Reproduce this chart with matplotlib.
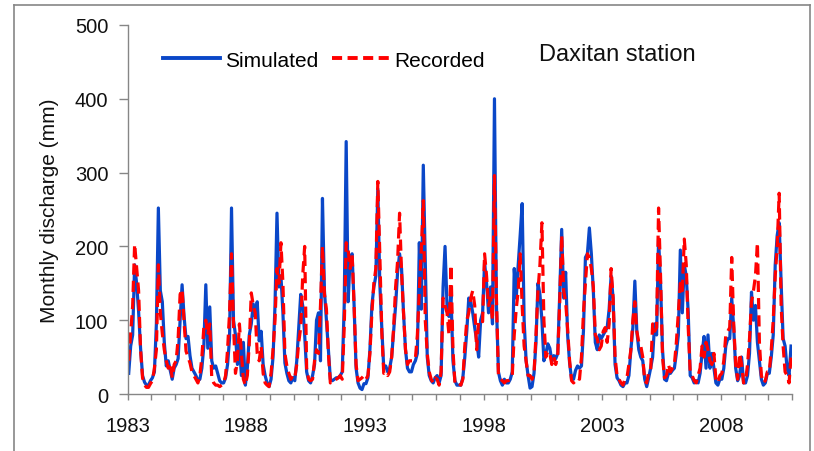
"""Monthly discharge at Daxitan station: simulated vs recorded, 1983-2010."""

import matplotlib.pyplot as plt
import numpy as np
from matplotlib.lines import Line2D

plt.rcParams["font.family"] = ["Liberation Sans", "DejaVu Sans"]

START_YEAR = 1983
N_YEARS = 28

# monthly discharge (mm), one row per year, Jan..Dec
simulated = [
    28, 65, 80, 175, 150, 112, 62, 25, 16, 12, 12, 18,      # 1983
    22, 30, 95, 252, 140, 125, 70, 38, 45, 32, 20, 35,      # 1984
    40, 48, 100, 148, 105, 75, 78, 52, 35, 30, 25, 18,      # 1985
    20, 35, 65, 148, 62, 118, 45, 35, 38, 28, 18, 15,       # 1986
    15, 22, 40, 75, 252, 100, 80, 40, 68, 25, 70, 12,       # 1987
    35, 80, 95, 122, 105, 125, 72, 85, 40, 25, 15, 10,      # 1988
    20, 50, 120, 245, 145, 160, 110, 42, 28, 18, 15, 22,    # 1989
    18, 45, 90, 135, 120, 80, 30, 18, 15, 25, 40, 100,      # 1990
    110, 45, 265, 140, 100, 60, 20, 18, 20, 22, 22, 25,     # 1991
    30, 120, 342, 125, 185, 190, 120, 35, 15, 8, 6, 14,     # 1992
    14, 22, 60, 120, 145, 160, 278, 150, 90, 35, 38, 30,    # 1993
    35, 50, 85, 120, 165, 190, 170, 110, 60, 35, 30, 30,    # 1994
    40, 45, 55, 205, 115, 310, 180, 50, 25, 18, 15, 22,     # 1995
    25, 15, 25, 145, 200, 120, 105, 135, 45, 18, 12, 12,    # 1996
    12, 22, 50, 85, 130, 125, 110, 90, 72, 50, 100, 110,    # 1997
    178, 150, 110, 145, 95, 400, 120, 30, 18, 12, 20, 15,   # 1998
    15, 20, 30, 170, 130, 175, 215, 258, 100, 45, 25, 8,    # 1999
    10, 28, 70, 150, 135, 100, 45, 55, 68, 62, 45, 52,      # 2000
    48, 55, 135, 223, 130, 165, 80, 42, 20, 20, 32, 38,     # 2001
    35, 38, 85, 185, 190, 225, 190, 140, 70, 60, 80, 75,    # 2002
    80, 85, 90, 115, 160, 130, 40, 22, 18, 12, 10, 15,      # 2003
    15, 25, 60, 90, 153, 85, 60, 50, 45, 20, 10, 22,        # 2004
    35, 50, 95, 80, 210, 150, 60, 20, 18, 28, 28, 32,       # 2005
    35, 55, 80, 195, 110, 175, 160, 110, 25, 22, 15, 18,    # 2006
    15, 28, 55, 78, 35, 80, 35, 55, 35, 15, 12, 20,         # 2007
    20, 35, 65, 75, 75, 130, 90, 35, 18, 25, 50, 15,        # 2008
    15, 25, 55, 138, 100, 120, 70, 45, 20, 12, 15, 28,      # 2009
    28, 50, 80, 175, 215, 232, 150, 75, 65, 35, 25, 65,     # 2010
]

recorded = [
    45, 82, 120, 203, 172, 140, 60, 22, 12, 9, 9, 14,       # 1983
    18, 35, 60, 175, 110, 82, 60, 45, 35, 42, 22, 40,       # 1984
    45, 75, 135, 142, 98, 58, 50, 42, 30, 25, 20, 15,       # 1985
    25, 50, 90, 100, 80, 95, 22, 15, 12, 12, 10, 12,        # 1986
    14, 25, 60, 110, 190, 95, 28, 45, 95, 55, 20, 12,       # 1987
    25, 70, 137, 120, 110, 55, 45, 65, 28, 15, 12, 10,      # 1988
    28, 60, 100, 170, 150, 205, 150, 55, 38, 28, 20, 25,    # 1989
    22, 40, 70, 90, 160, 200, 35, 20, 18, 20, 45, 60,       # 1990
    55, 120, 200, 135, 115, 55, 15, 18, 18, 20, 22, 25,     # 1991
    20, 90, 205, 195, 170, 190, 120, 40, 18, 20, 22, 25,    # 1992
    20, 25, 55, 110, 150, 170, 288, 190, 85, 28, 30, 25,    # 1993
    30, 50, 90, 145, 180, 245, 165, 110, 60, 40, 45, 45,    # 1994
    45, 48, 80, 140, 195, 262, 100, 55, 30, 20, 15, 22,     # 1995
    20, 12, 30, 130, 120, 110, 80, 175, 60, 15, 12, 14,     # 1996
    12, 20, 65, 100, 110, 130, 140, 120, 60, 100, 100, 98,  # 1997
    190, 160, 120, 130, 100, 296, 130, 25, 20, 18, 15, 18,  # 1998
    18, 20, 25, 80, 115, 140, 190, 120, 65, 45, 25, 25,     # 1999
    20, 28, 80, 140, 175, 232, 100, 50, 58, 55, 40, 50,     # 2000
    40, 52, 125, 215, 140, 125, 88, 45, 18, 15, 18, 22,     # 2001
    20, 50, 110, 150, 190, 185, 170, 145, 80, 75, 60, 65,   # 2002
    85, 90, 70, 95, 170, 130, 50, 25, 20, 15, 12, 20,       # 2003
    22, 40, 60, 100, 125, 85, 70, 65, 50, 18, 15, 30,       # 2004
    32, 95, 85, 90, 252, 160, 50, 22, 25, 40, 30, 35,       # 2005
    40, 70, 110, 150, 140, 210, 175, 90, 30, 25, 18, 15,    # 2006
    25, 35, 65, 50, 70, 60, 45, 40, 55, 20, 15, 25,         # 2007
    28, 45, 80, 85, 90, 185, 95, 40, 20, 55, 40, 15,        # 2008
    18, 40, 75, 125, 140, 160, 205, 70, 25, 15, 18, 30,     # 2009
    30, 60, 100, 160, 200, 272, 120, 65, 30, 25, 15, 50,    # 2010
]

year_labels = [str(y) for y in range(START_YEAR, START_YEAR + N_YEARS, 5)]
y_ticks = [0, 100, 200, 300, 400, 500]

BLUE = "#0a47c8"
RED = "#ff0000"
GRAY = "#868686"
TEXT = "#111111"

n_months = len(simulated)
months = np.arange(n_months) + 0.5  # points sit mid-category

fig = plt.figure(figsize=(8.14, 4.52), dpi=100)
ax = fig.add_axes([0.1569, 0.1261, 0.8161, 0.8164])

ax.plot(months, simulated, color=BLUE, lw=2.3, solid_joinstyle="round")
ax.plot(months, recorded, color=RED, lw=2.3, dashes=(3.5, 1.9))

ax.set_xlim(0, n_months)
ax.set_ylim(0, 500)
ax.set_yticks(y_ticks)
ax.set_xticks(np.arange(0, n_months + 1, 12))
ax.set_xticklabels([year_labels[i // 5] if i % 5 == 0 else "" for i in range(N_YEARS + 1)])

for side in ("top", "right"):
    ax.spines[side].set_visible(False)
for side in ("left", "bottom"):
    ax.spines[side].set_color(GRAY)
    ax.spines[side].set_linewidth(1.0)
ax.tick_params(axis="y", direction="out", length=6.5, width=1.0, color=GRAY,
               labelsize=14.5, pad=7.5, labelcolor=TEXT)
ax.tick_params(axis="x", direction="out", length=4.5, width=1.0, color=GRAY,
               labelsize=14.5, pad=11, labelcolor=TEXT)

ax.set_ylabel("Monthly discharge (mm)", fontsize=15, color=TEXT, labelpad=11)

handles = [
    Line2D([], [], color=BLUE, lw=2.8),
    Line2D([], [], color=RED, lw=2.8, dashes=(2.6, 1.4)),
]
ax.legend(handles, ["Simulated", "Recorded"], loc="center left",
          bbox_to_anchor=(0.053, 0.905), ncol=2, frameon=False,
          fontsize=15, handlelength=2.75, handletextpad=0.25,
          columnspacing=0.65, borderpad=0, borderaxespad=0)

ax.text(0.619, 0.921, "Daxitan station", transform=ax.transAxes,
        ha="left", va="center", fontsize=17, color=TEXT)

# thin gray frame around the figure
frame_kw = dict(color=GRAY, lw=1.2, transform=fig.transFigure)
fig.add_artist(Line2D([14 / 814, 810 / 814], [1 - 6 / 452, 1 - 6 / 452], **frame_kw))
fig.add_artist(Line2D([14 / 814, 14 / 814], [0, 1 - 6 / 452], **frame_kw))
fig.add_artist(Line2D([810 / 814, 810 / 814], [0, 1 - 6 / 452], **frame_kw))

fig.savefig("out.png", dpi=100)
